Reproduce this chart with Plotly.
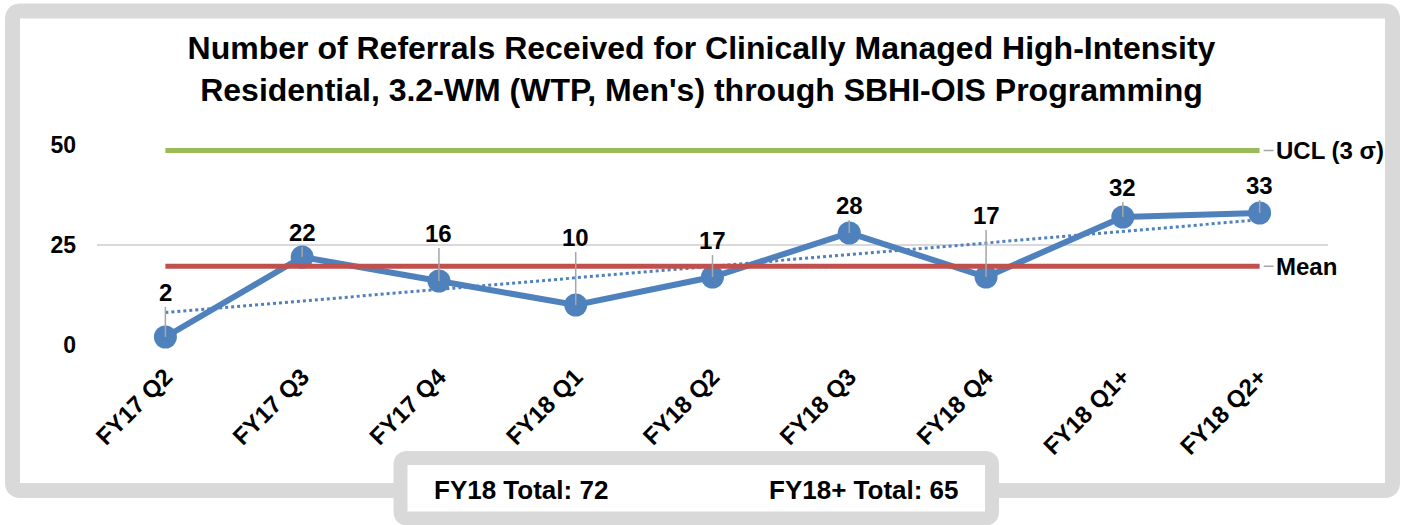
import plotly.graph_objects as go

# ---------------- data ----------------
categories = ["FY17 Q2", "FY17 Q3", "FY17 Q4", "FY18 Q1", "FY18 Q2",
              "FY18 Q3", "FY18 Q4", "FY18 Q1+", "FY18 Q2+"]
referrals = [2, 22, 16, 10, 17, 28, 17, 32, 33]
mean_value = 19.7
ucl_value = 48.6
trend_values = [8.1, 31.3]          # linear trend at first and last category
ytick_values = [0, 25, 50]
title_text = ("Number of Referrals Received for Clinically Managed High-Intensity<br>"
              "Residential, 3.2-WM (WTP, Men's) through SBHI-OIS Programming")
ucl_label = "UCL (3 σ)"
mean_label = "Mean"
fy18_total_text = "FY18 Total: 72"
fy18plus_total_text = "FY18+ Total: 65"

# ---------------- layout helpers ----------------
W, H = 1403, 525
ML, MR, MT, MB = 97, 75, 145, 180
PW, PH = W - ML - MR, H - MT - MB
FONT = "Liberation Sans, Arial, Helvetica, sans-serif"
BLUE = "#4F81BD"
RED = "#C0504D"
GREEN = "#9BBB59"
FRAME = "#D9D9D9"
LEADER = "#A6A6A6"


def px(x):
    return (x - ML) / PW


def py(y):
    return (H - MB - y) / PH


def rounded_rect(x0, y0, x1, y1, r):
    return (f"M {px(x0 + r)},{py(y0)} L {px(x1 - r)},{py(y0)} "
            f"Q {px(x1)},{py(y0)} {px(x1)},{py(y0 + r)} "
            f"L {px(x1)},{py(y1 - r)} Q {px(x1)},{py(y1)} {px(x1 - r)},{py(y1)} "
            f"L {px(x0 + r)},{py(y1)} Q {px(x0)},{py(y1)} {px(x0)},{py(y1 - r)} "
            f"L {px(x0)},{py(y0 + r)} Q {px(x0)},{py(y0)} {px(x0 + r)},{py(y0)} Z")


fig = go.Figure()

# data line
fig.add_trace(go.Scatter(
    x=categories, y=referrals, mode="lines+markers",
    line=dict(color=BLUE, width=6),
    marker=dict(color=BLUE, size=23),
    cliponaxis=False, hoverinfo="x+y", showlegend=False))

# linear trend (dotted)
fig.add_trace(go.Scatter(
    x=[categories[0], categories[-1]], y=trend_values, mode="lines",
    line=dict(color=BLUE, width=3, dash="dot"),
    cliponaxis=False, showlegend=False, hoverinfo="skip"))

# mean line
fig.add_trace(go.Scatter(
    x=[categories[0], categories[-1]], y=[mean_value, mean_value], mode="lines",
    line=dict(color=RED, width=5),
    cliponaxis=False, showlegend=False, hoverinfo="skip"))

# UCL line
fig.add_trace(go.Scatter(
    x=[categories[0], categories[-1]], y=[ucl_value, ucl_value], mode="lines",
    line=dict(color=GREEN, width=5),
    cliponaxis=False, showlegend=False, hoverinfo="skip"))

# ---------------- annotations ----------------
label_offsets = [-45, -25, -48, -68, -37, -28, -62, -30, -28]
annotations = []
for cat, val, off in zip(categories, referrals, label_offsets):
    annotations.append(dict(
        x=cat, y=val, xref="x", yref="y", text=f"<b>{val}</b>",
        showarrow=True, arrowhead=0, arrowwidth=1.5, arrowcolor=LEADER,
        ax=0, ay=off, standoff=0,
        font=dict(family=FONT, size=24, color="#000000")))

for val, txt in [(ucl_value, ucl_label), (mean_value, mean_label)]:
    annotations.append(dict(
        x=categories[-1], y=val, xref="x", yref="y", text=f"<b>{txt}</b>",
        showarrow=True, arrowhead=0, arrowwidth=1.5, arrowcolor=LEADER,
        ax=14, ay=0, standoff=4, xanchor="left", yanchor="middle",
        font=dict(family=FONT, size=24, color="#000000")))

annotations.append(dict(
    x=px(521), y=py(490), xref="paper", yref="paper", showarrow=False,
    text=f"<b>{fy18_total_text}</b>", xanchor="center", yanchor="middle",
    font=dict(family=FONT, size=26, color="#000000")))
annotations.append(dict(
    x=px(864), y=py(490), xref="paper", yref="paper", showarrow=False,
    text=f"<b>{fy18plus_total_text}</b>", xanchor="center", yanchor="middle",
    font=dict(family=FONT, size=26, color="#000000")))

# ---------------- frames ----------------
shapes = [
    dict(type="path", xref="paper", yref="paper", layer="below",
         path=rounded_rect(12.5, 11, 1392.5, 490.5, 8),
         line=dict(color=FRAME, width=15), fillcolor="white"),
    dict(type="path", xref="paper", yref="paper", layer="below",
         path=rounded_rect(400.5, 458, 992, 518.5, 7),
         line=dict(color=FRAME, width=14), fillcolor="white"),
]

fig.update_layout(
    width=W, height=H,
    margin=dict(l=ML, r=MR, t=MT, b=MB, autoexpand=False),
    paper_bgcolor="white", plot_bgcolor="rgba(0,0,0,0)",
    font=dict(family=FONT, color="#000000"),
    title=dict(text=f"<b>{title_text}</b>", x=0.5, xref="container",
               y=1 - 59 / H, yref="container", yanchor="top", xanchor="center",
               font=dict(family=FONT, size=32, color="#000000")),
    xaxis=dict(type="category", categoryorder="array", categoryarray=categories,
               range=[-0.5, len(categories) - 0.5], showgrid=False,
               showline=False, zeroline=False, tickangle=-45, ticks="",
               ticklabelstandoff=12,
               tickfont=dict(family=FONT, size=24, color="#000000", weight="bold")),
    yaxis=dict(range=[0, 50], tickvals=ytick_values, showgrid=True,
               gridcolor=FRAME, gridwidth=2, zeroline=False, showline=False,
               ticks="", ticklabelstandoff=20,
               tickfont=dict(family=FONT, size=23, color="#000000", weight="bold")),
    annotations=annotations, shapes=shapes, showlegend=False,
)

fig.write_html("out.html",
               config={"displayModeBar": False},
               post_script="document.body.style.margin='0';"
                           "document.body.style.overflow='hidden';")
